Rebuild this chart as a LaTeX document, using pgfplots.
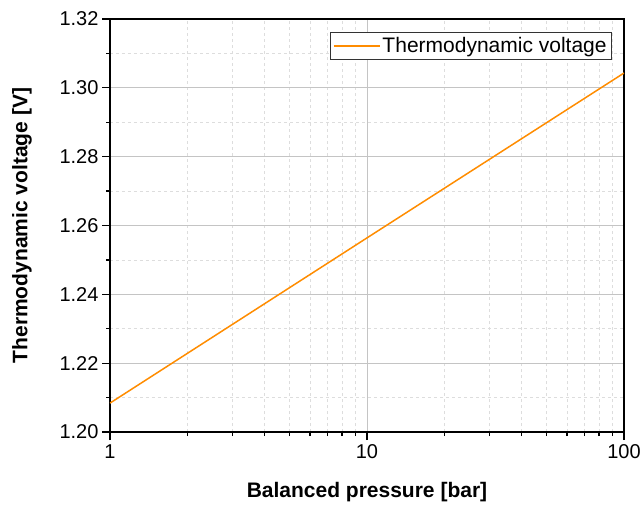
\documentclass[border=0pt]{standalone}
\usepackage{pgfplots}
\pgfplotsset{compat=1.18}
\usepackage{fontspec}
\setmainfont{Liberation Sans}
\definecolor{lineorange}{HTML}{FF8C00}
\definecolor{majgrid}{HTML}{C4C4C4}
\definecolor{mingrid}{HTML}{DDDDDD}
\begin{document}
\begin{tikzpicture}
\begin{axis}[
  scale only axis,
  width=514pt, height=413pt,
  xmode=log, xmin=1, xmax=100,
  ymin=1.20, ymax=1.32,
  ytick={1.20,1.22,...,1.32},
  minor ytick={1.21,1.23,...,1.31},
  xtick={1,10,100},
  xticklabels={1,10,100},
  yticklabel style={/pgf/number format/fixed,/pgf/number format/fixed zerofill,/pgf/number format/precision=2},
  /pgf/number format/assume math mode=true,
  tick label style={font=\fontsize{20}{22}\selectfont},
  log ticks with fixed point,
  tick align=outside,
  major tick length=8pt, minor tick length=4pt,
  tick style={black, line width=1.2pt},
  xtick pos=bottom, ytick pos=left,
  axis line style={black, line width=1.5pt},
  grid=both,
  major grid style={majgrid, line width=0.8pt, solid},
  minor grid style={mingrid, line width=0.6pt, dashed},
  xlabel={Balanced pressure [bar]},
  ylabel={Thermodynamic voltage [V]},
  label style={font=\fontsize{21}{23}\selectfont\bfseries},
  xlabel style={at={(axis description cs:0.5,-0.1453)}, anchor=center},
  ylabel style={at={(axis description cs:-0.171,0.5)}, anchor=center},
  xticklabel style={yshift=-1pt},
  legend style={at={(axis description cs:1,1)}, anchor=north east, xshift=-12pt, yshift=-13pt,
    draw=black!80, line width=0.8pt, font=\fontsize{21}{23}\selectfont,
    inner xsep=3pt, inner ysep=3pt},
  legend cell align=left,
  legend image code/.code={\draw[lineorange, line width=1.5pt] (0pt,0pt) -- (46pt,0pt);},
]
\addplot[lineorange, line width=1.5pt] coordinates {(1,1.2084) (10,1.2564) (100,1.3043)};
\addlegendentry{Thermodynamic voltage}
\end{axis}
\pgfresetboundingbox
\path (-110pt,-74pt) rectangle (532pt,432pt);
\end{tikzpicture}
\end{document}
